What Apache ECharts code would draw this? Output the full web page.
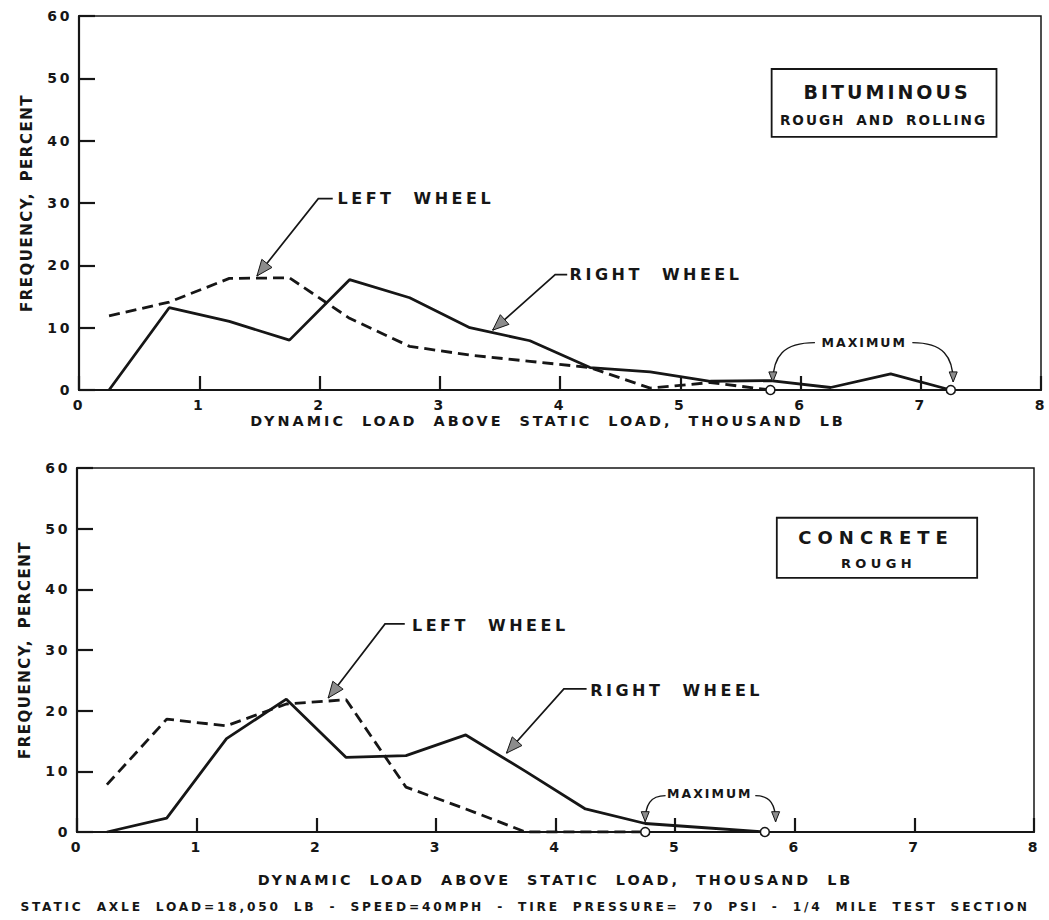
<!DOCTYPE html>
<html>
<head>
<meta charset="utf-8">
<script src="https://cdn.jsdelivr.net/npm/echarts@6/dist/echarts.min.js"></script>
<style>
  html, body { margin: 0; padding: 0; background: #fff; }
  #chart { width: 1049px; height: 920px; }
  /* drafting-style lettering: each text role has its own size and tracking */
  #chart text[style*="14px"]   { letter-spacing: 2.6px; }                      /* tick labels */
  #chart text[style*="14.4px"] { letter-spacing: 3px;   word-spacing: 8px; }   /* x axis name */
  #chart text[style*="15px"]   { letter-spacing: 1.5px; word-spacing: 4px; }   /* y axis name */
  #chart text[style*="16px"]   { letter-spacing: 3.5px; word-spacing: 10px; }  /* wheel labels */
  #chart text[style*="12.5px"] { letter-spacing: 2px; }                        /* MAXIMUM */
  #chart text[style*="12.2px"] { letter-spacing: 2.8px; word-spacing: 6px; }   /* test conditions */
  #chart text[style*="19px"]   { letter-spacing: 3px; }                        /* BITUMINOUS */
  #chart text[style*="18px"]   { letter-spacing: 6px; }                        /* CONCRETE */
  #chart text[style*="13.6px"] { letter-spacing: 2px;   word-spacing: 4px; }   /* ROUGH AND ROLLING */
  #chart text[style*="13px"]   { letter-spacing: 4.4px; }                      /* ROUGH */
</style>
</head>
<body>
<div id="chart"></div>
<script>
// Class midpoints of dynamic load above static load (thousand lb)
const loadMid = [0.25, 0.75, 1.25, 1.75, 2.25, 2.75, 3.25, 3.75, 4.25, 4.75, 5.25, 5.75, 6.25, 6.75, 7.25];

// Frequency (percent) - bituminous, rough and rolling
const bitRight = [0, 13.2, 11.0, 8.0, 17.7, 14.8, 10.0, 7.9, 3.6, 2.9, 1.4, 1.5, 0.4, 2.6, 0];
const bitLeft  = [11.9, 14.1, 17.9, 18.0, 11.5, 7.0, 5.6, 4.6, 3.6, 0.3, 1.2, 0];

// Frequency (percent) - concrete, rough
const conRight = [0, 2.3, 15.4, 21.9, 12.3, 12.6, 16.0, 10.0, 3.8, 1.4, 0.7, 0];
const conLeft  = [7.8, 18.6, 17.5, 21.1, 21.8, 7.4, 3.8, 0, 0, 0];

// Tick labels
const xTickLabels = ['0', '1', '2', '3', '4', '5', '6', '7', '8'];
const yTickLabels = ['0', '10', '20', '30', '40', '50', '60'];

const INK = '#161616';
const FONT = '"DejaVu Sans", sans-serif';

const chart = echarts.init(document.getElementById('chart'), null, { renderer: 'svg' });

// one point per class midpoint; only the last point (the maximum) carries a circle
function polygonData(values) {
  return values.map((v, i) => ({
    value: [loadMid[i], v],
    symbol: i === values.length - 1 ? 'circle' : 'none'
  }));
}

function lineSeries(grid, values, dashed) {
  return {
    type: 'line',
    xAxisIndex: grid,
    yAxisIndex: grid,
    data: polygonData(values),
    showSymbol: true,
    symbolSize: 9,
    itemStyle: { color: '#fff', borderColor: INK, borderWidth: 1.6 },
    lineStyle: { color: INK, width: 2.8, type: dashed ? [11, 6] : 'solid' },
    z: 3,
    silent: true
  };
}

const option = {
  animation: false,
  backgroundColor: '#fff',
  grid: [
    { left: 79, right: 8, top: 16, height: 374, show: true, borderColor: INK, borderWidth: 1.5 },
    { left: 77, right: 15, top: 468, height: 364, show: true, borderColor: INK, borderWidth: 1.5 }
  ],
  xAxis: [0, 1].map(i => ({
    gridIndex: i,
    type: 'value',
    min: 0, max: 8, interval: 1,
    axisLine: { show: true, onZero: false, lineStyle: { color: INK, width: 2.2 } },
    axisTick: { show: true, inside: true, length: 14, lineStyle: { color: INK, width: 2.2 } },
    axisLabel: {
      fontFamily: FONT, fontWeight: 'bold', fontSize: 14, color: INK, margin: 8,
      formatter: v => xTickLabels[Math.round(v)]
    },
    splitLine: { show: false },
    name: 'DYNAMIC LOAD ABOVE STATIC LOAD, THOUSAND LB',
    nameLocation: 'middle',
    nameGap: i === 0 ? 24 : 41,
    nameTextStyle: {
      fontFamily: FONT, fontWeight: 'bold', fontSize: 14.4, color: INK,
      padding: i === 0 ? [0, 24, 0, 0] : 0
    }
  })),
  yAxis: [0, 1].map(i => ({
    gridIndex: i,
    type: 'value',
    min: 0, max: 60, interval: 10,
    axisLine: { show: true, onZero: false, lineStyle: { color: INK, width: 2.2 } },
    axisTick: { show: true, inside: true, length: 16, lineStyle: { color: INK, width: 2.2 } },
    axisLabel: {
      fontFamily: FONT, fontWeight: 'bold', fontSize: 14, color: INK, margin: 7,
      formatter: v => yTickLabels[Math.round(v / 10)]
    },
    splitLine: { show: false },
    name: 'FREQUENCY, PERCENT',
    nameLocation: 'middle',
    nameRotate: 90,
    nameGap: 45,
    nameTextStyle: { fontFamily: FONT, fontWeight: 'bold', fontSize: 15, color: INK }
  })),
  series: [
    lineSeries(0, bitRight, false),
    lineSeries(0, bitLeft, true),
    lineSeries(1, conRight, false),
    lineSeries(1, conLeft, true)
  ]
};

chart.setOption(option);

// ---- annotations, placed in data units of each panel ----
const panels = [
  {
    grid: 0,
    labels: [
      { text: 'LEFT WHEEL', at: [2.15, 30.7] },
      { text: 'RIGHT WHEEL', at: [4.08, 18.5] }
    ],
    leaders: [
      { from: [2.11, 30.7], corner: [1.99, 30.7], tip: [1.48, 18.3] },
      { from: [4.06, 18.5], corner: [3.96, 18.5], tip: [3.44, 9.6] }
    ],
    maximum: { at: [6.53, 7.7], left: [[6.12, 7.6], [5.77, 1.3]], right: [[6.93, 7.6], [7.27, 1.3]] },
    box: { from: [5.76, 51.5], to: [7.63, 40.6] },
    title: { text: 'BITUMINOUS', at: [6.72, 47.8], size: 19 },
    subtitle: { text: 'ROUGH AND ROLLING', at: [6.69, 43.3], size: 13.6 }
  },
  {
    grid: 1,
    labels: [
      { text: 'LEFT WHEEL', at: [2.80, 34.1] },
      { text: 'RIGHT WHEEL', at: [4.29, 23.4] }
    ],
    leaders: [
      { from: [2.74, 34.3], corner: [2.575, 34.3], tip: [2.10, 22.1] },
      { from: [4.26, 23.6], corner: [4.07, 23.6], tip: [3.59, 13.0] }
    ],
    maximum: { at: [5.29, 6.4], left: [[4.92, 6.0], [4.75, 1.7]], right: [[5.67, 6.0], [5.84, 1.7]] },
    box: { from: [5.85, 51.8], to: [7.525, 41.9] },
    title: { text: 'CONCRETE', at: [6.68, 48.5], size: 18 },
    subtitle: { text: 'ROUGH', at: [6.70, 44.3], size: 13 }
  }
];

function textEl(text, p, opts) {
  return {
    type: 'text', x: p[0], y: p[1], z: 20, silent: true,
    style: Object.assign({
      text: text, fill: INK, fontFamily: FONT,
      fontSize: 16, fontWeight: 'bold',
      align: 'left', textAlign: 'left',
      verticalAlign: 'middle', textVerticalAlign: 'middle'
    }, opts || {})
  };
}

function arrowHead(tip, from, len, half, fill) {
  const dx = tip[0] - from[0], dy = tip[1] - from[1];
  const d = Math.hypot(dx, dy) || 1;
  const ux = dx / d, uy = dy / d;
  const bx = tip[0] - ux * len, by = tip[1] - uy * len;
  return {
    type: 'polygon', z: 21, silent: true,
    shape: { points: [tip, [bx - uy * half, by + ux * half], [bx + uy * half, by - ux * half]] },
    style: { fill: fill, stroke: INK, lineWidth: 1 }
  };
}

function buildGraphics() {
  const g = [];
  panels.forEach(pn => {
    const px = v => chart.convertToPixel({ gridIndex: pn.grid }, v);

    pn.labels.forEach(l => g.push(textEl(l.text, px(l.at), { fontSize: 16 })));

    pn.leaders.forEach(l => {
      const a = px(l.from), c = px(l.corner), t = px(l.tip);
      g.push({
        type: 'polyline', z: 20, silent: true,
        shape: { points: [a, c, t] },
        style: { stroke: INK, lineWidth: 1.7, fill: null }
      });
      g.push(arrowHead(t, c, 16, 6.5, '#8c8c8c'));
    });

    const m = pn.maximum;
    g.push(textEl('MAXIMUM', px(m.at), { fontSize: 12.5, align: 'center', textAlign: 'center' }));
    [m.left, m.right].forEach(seg => {
      const s = px(seg[0]), t = px(seg[1]);
      const c1 = [s[0] + (t[0] - s[0]) * 0.75, s[1]];
      const c2 = [t[0], s[1] + (t[1] - s[1]) * 0.35];
      g.push({
        type: 'bezierCurve', z: 20, silent: true,
        shape: { x1: s[0], y1: s[1], x2: t[0], y2: t[1], cpx1: c1[0], cpy1: c1[1], cpx2: c2[0], cpy2: c2[1] },
        style: { stroke: INK, lineWidth: 1.4, fill: null }
      });
      g.push(arrowHead(t, c2, 10, 4, '#8c8c8c'));
    });

    const b0 = px(pn.box.from), b1 = px(pn.box.to);
    g.push({
      type: 'rect', z: 19, silent: true,
      shape: { x: b0[0], y: b0[1], width: b1[0] - b0[0], height: b1[1] - b0[1] },
      style: { fill: '#fff', stroke: INK, lineWidth: 1.8 }
    });
    g.push(textEl(pn.title.text, px(pn.title.at), { fontSize: pn.title.size, align: 'center', textAlign: 'center' }));
    g.push(textEl(pn.subtitle.text, px(pn.subtitle.at), { fontSize: pn.subtitle.size, align: 'center', textAlign: 'center' }));
  });

  // test conditions line under the lower panel
  g.push(textEl('STATIC AXLE LOAD=18,050 LB - SPEED=40MPH - TIRE PRESSURE= 70 PSI - 1/4 MILE TEST SECTION',
    [525, 907], { fontSize: 12.2, align: 'center', textAlign: 'center' }));
  return g;
}

chart.setOption({ graphic: buildGraphics() });
</script>
</body>
</html>
